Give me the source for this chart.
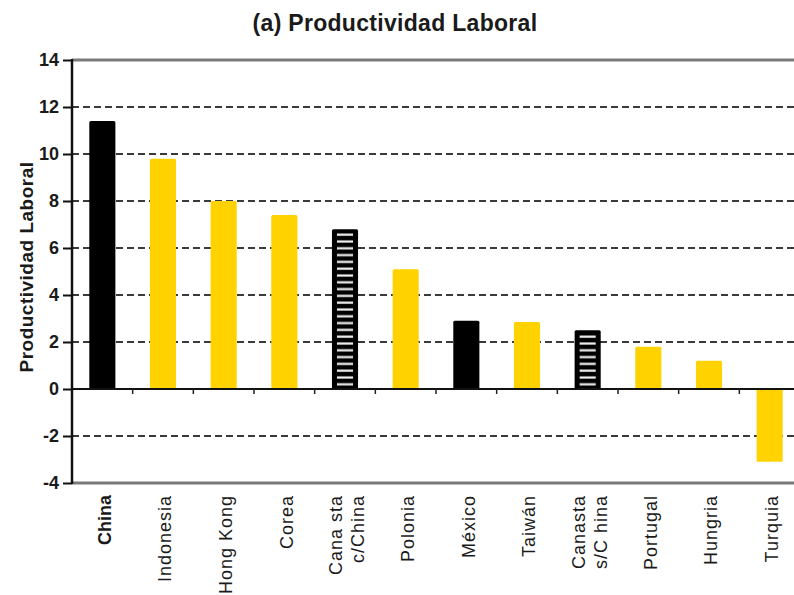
<!DOCTYPE html>
<html>
<head>
<meta charset="utf-8">
<script src="https://cdn.jsdelivr.net/npm/d3@7"></script>
<style>
  body { margin: 0; background: #fff; }
  svg { display: block; font-family: "Liberation Sans", Arial, sans-serif; }
</style>
</head>
<body>
<div class="canvas"></div>
<script>
// data
const countries = [
  "China", "Indonesia", "Hong Kong", "Corea", "Canasta c/China", "Polonia",
  "México", "Taiwán", "Canasta s/China", "Portugal", "Hungria", "Turquia"
];
const productividad = [11.4, 9.8, 8.0, 7.4, 6.8, 5.1, 2.9, 2.85, 2.5, 1.8, 1.2, -3.1];
// bar style per country: black, yellow or hatched basket
const barKind = [
  "black", "yellow", "yellow", "yellow", "hatch", "yellow",
  "black", "yellow", "hatch", "yellow", "yellow", "yellow"
];
// labels as printed (some broken in two lines)
const labelLines = [
  ["China"], ["Indonesia"], ["Hong Kong"], ["Corea"], ["Cana sta", "c/China"], ["Polonia"],
  ["México"], ["Taiwán"], ["Canasta", "s/C hina"], ["Portugal"], ["Hungria"], ["Turquia"]
];
const yTicks = [-4, -2, 0, 2, 4, 6, 8, 10, 12, 14];

const data = countries.map((c, i) => ({
  country: c,
  value: productividad[i],
  kind: barKind[i],
  lines: labelLines[i]
}));

const width = 794;
const height = 595;

const svg = d3
  .select(".canvas")
  .append("svg")
  .attr("width", width)
  .attr("height", height);

// plot area (runs a bit past the right border, like the original crop)
const plotLeft = 72;
const plotRight = 800;
const plotTop = 60;
const plotBottom = 483;

const yellow = "#ffd200";

// stripes for the basket bars
const defs = svg.append("defs");
const pattern = defs
  .append("pattern")
  .attr("id", "stripes")
  .attr("patternUnits", "userSpaceOnUse")
  .attr("width", 10)
  .attr("height", 6.8);
pattern
  .append("rect")
  .attr("x", 0)
  .attr("y", 2.4)
  .attr("width", 10)
  .attr("height", 2.2)
  .attr("fill", "#f4f4f4");

const x = d3
  .scaleBand()
  .domain(countries)
  .range([plotLeft, plotRight])
  .paddingInner(0.57)
  .paddingOuter(0.285);

const y = d3
  .scaleLinear()
  .domain([-4, 14])
  .range([plotBottom, plotTop]);

// title
svg
  .append("text")
  .attr("x", 395)
  .attr("y", 31)
  .attr("text-anchor", "middle")
  .style("font-size", "23px")
  .attr("font-weight", "bold")
  .attr("letter-spacing", 0.3)
  .attr("fill", "#1a1a1a")
  .text("(a) Productividad Laboral");

// dashed grid lines
const grid = svg.append("g");
grid
  .selectAll("line")
  .data(yTicks.filter(d => d !== 0 && d !== 14 && d !== -4))
  .enter()
  .append("line")
  .attr("x1", plotLeft)
  .attr("x2", width)
  .attr("y1", d => y(d))
  .attr("y2", d => y(d))
  .attr("stroke", "#3a3a3a")
  .attr("stroke-width", 2)
  .attr("stroke-dasharray", "7,4");

// gray frame lines at top and bottom
svg
  .selectAll(".frame")
  .data([14, -4])
  .enter()
  .append("line")
  .attr("class", "frame")
  .attr("x1", plotLeft)
  .attr("x2", width)
  .attr("y1", d => y(d))
  .attr("y2", d => y(d))
  .attr("stroke", "#7a7a7a")
  .attr("stroke-width", 3);

// bars
const bars = svg.append("g");
bars
  .selectAll("rect")
  .data(data)
  .enter()
  .append("rect")
  .attr("x", d => x(d.country))
  .attr("width", x.bandwidth())
  .attr("y", d => y(Math.max(0, d.value)))
  .attr("height", d => Math.abs(y(d.value) - y(0)))
  .attr("rx", 1.5)
  .attr("fill", d => (d.kind === "yellow" ? yellow : "#000"));

// white stripes inside the basket bars
bars
  .selectAll(".inner")
  .data(data.filter(d => d.kind === "hatch"))
  .enter()
  .append("rect")
  .attr("class", "inner")
  .attr("x", d => x(d.country) + 5)
  .attr("width", x.bandwidth() - 10)
  .attr("y", d => y(d.value) + 3)
  .attr("height", d => y(0) - y(d.value) - 6)
  .attr("fill", "url(#stripes)");

// zero line with small ticks between categories
svg
  .append("line")
  .attr("x1", plotLeft)
  .attr("x2", width)
  .attr("y1", y(0))
  .attr("y2", y(0))
  .attr("stroke", "#111")
  .attr("stroke-width", 2);

svg
  .append("g")
  .selectAll("line")
  .data(countries.slice(1))
  .enter()
  .append("line")
  .attr("x1", d => x(d) - x.step() * x.paddingInner() / 2)
  .attr("x2", d => x(d) - x.step() * x.paddingInner() / 2)
  .attr("y1", y(0))
  .attr("y2", y(0) + 5)
  .attr("stroke", "#222")
  .attr("stroke-width", 1.5);

// left axis (plain hyphen for negatives, as in the original)
const yAxis = d3
  .axisLeft(y)
  .tickValues(yTicks)
  .tickFormat(d => String(d))
  .tickSize(9)
  .tickPadding(4);

const yAxisGroup = svg
  .append("g")
  .attr("transform", `translate(${plotLeft}, 0)`)
  .call(yAxis);

yAxisGroup.select(".domain").remove();
yAxisGroup.selectAll("line").attr("stroke", "#111").attr("stroke-width", 2);
yAxisGroup
  .selectAll("text")
  .style("font-family", "Liberation Sans, Arial, sans-serif")
  .style("font-size", "18px")
  .style("font-weight", "bold")
  .attr("fill", "#1a1a1a");

svg
  .append("line")
  .attr("x1", plotLeft)
  .attr("x2", plotLeft)
  .attr("y1", plotTop - 1)
  .attr("y2", plotBottom + 1)
  .attr("stroke", "#111")
  .attr("stroke-width", 2.5);

// y axis title
svg
  .append("text")
  .attr("transform", `translate(33, 267) rotate(-90)`)
  .attr("text-anchor", "middle")
  .style("font-size", "19px")
  .attr("font-weight", "bold")
  .attr("letter-spacing", 0.5)
  .attr("fill", "#1a1a1a")
  .text("Productividad Laboral");

// rotated category labels
const labels = svg
  .append("g")
  .selectAll("text")
  .data(data)
  .enter()
  .append("text")
  .attr("transform", d => `translate(${x(d.country) + x.bandwidth() / 2 + 2}, 495) rotate(-90)`)
  .attr("text-anchor", "end")
  .style("font-size", "18px")
  .attr("letter-spacing", d => (d.country === "China" ? 0 : 1))
  .attr("font-weight", d => (d.country === "China" ? "bold" : "normal"))
  .attr("fill", "#1a1a1a");

labels
  .selectAll("tspan")
  .data(d => d.lines.map((t, i) => ({ t, i, n: d.lines.length })))
  .enter()
  .append("tspan")
  .attr("x", 0)
  .attr("y", d => (d.i - (d.n - 1) / 2) * 22)
  .attr("dy", "0.35em")
  .text(d => d.t);
</script>
</body>
</html>
